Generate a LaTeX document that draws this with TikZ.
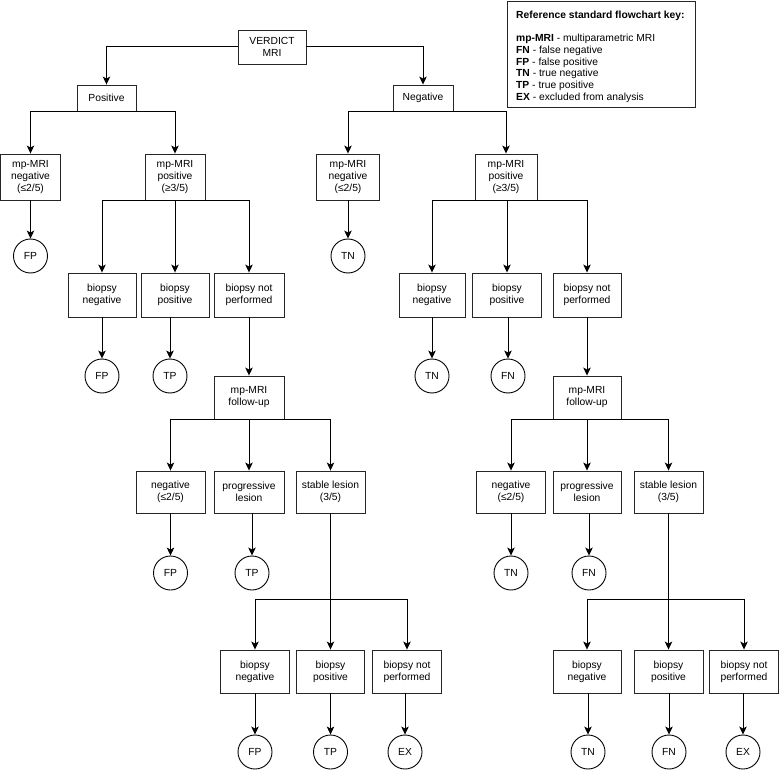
\documentclass[tikz,border=0pt]{standalone}
\usepackage{fontspec}
\setmainfont{Liberation Sans}
\usetikzlibrary{arrows.meta}
\newcommand\mybx[5]{\node[box,minimum width=#4pt,minimum height=#5pt] (#1) at (#2) {#3};}
\newcommand\myres[3]{\node[res] (#1) at (#2) {#3};}
\begin{document}
\begin{tikzpicture}[x=1pt,y=-1pt,
 box/.style={draw=black!85, line width=0.9pt, align=center, inner sep=0pt, font=\fontsize{10.3}{12}\selectfont},
 res/.style={circle, draw=black, line width=0.9pt, minimum size=34pt, inner sep=0pt, font=\fontsize{10.3}{12}\selectfont},
 arr/.style={line width=1pt, -{Stealth[length=8pt,width=7.5pt,inset=2pt]}},
 thinarr/.style={arr, line width=0.7pt}]
\useasboundingbox (0,0) rectangle (779,770);
% level 0/1
\mybx{verdict}{272,47}{VERDICT\\MRI}{68}{34}
\mybx{pos}{106.5,98}{Positive}{59}{26}
\mybx{neg}{423,98}{Negative}{60}{26}
% level 2
\mybx{mpnegL}{30.5,177}{mp-MRI\\negative\\(≤2/5)}{60}{46}
\mybx{mpposL}{175,177}{mp-MRI\\positive\\(≥3/5)}{60}{46}
\mybx{mpnegR}{348,177}{mp-MRI\\negative\\(≤2/5)}{63}{46}
\mybx{mpposR}{506,177}{mp-MRI\\positive\\(≥3/5)}{62}{46}
\myres{fp1}{30.5,256}{FP}
\myres{tn1}{348,256}{TN}
% biopsy row
\mybx{bnegL}{102,295}{biopsy\\negative}{68}{44}
\mybx{bposL}{175,295}{biopsy\\positive}{68}{44}
\mybx{bnpL}{249,295}{biopsy not\\performed}{70}{44}
\mybx{bnegR}{432,295}{biopsy\\negative}{66}{44}
\mybx{bposR}{507,295}{biopsy\\positive}{69}{44}
\mybx{bnpR}{587,295}{biopsy not\\performed}{68}{44}
\myres{fp2}{102,376}{FP}
\myres{tp2}{170,376}{TP}
\myres{tn2}{432,376}{TN}
\myres{fn2}{508,376}{FN}
% follow-up
\mybx{fuL}{249,397.5}{mp-MRI\\follow-up}{70}{43}
\mybx{fuR}{587,397.5}{mp-MRI\\follow-up}{68}{43}
% row 3
\mybx{negL3}{170.5,492}{negative\\(≤2/5)}{69}{42}
\mybx{progL3}{249,492}{progressive\\lesion}{70}{42}
\mybx{stabL3}{330.5,492}{stable lesion\\(3/5)}{69}{42}
\mybx{negR3}{511,492}{negative\\(≤2/5)}{69}{42}
\mybx{progR3}{587,492}{progressive\\lesion}{68}{42}
\mybx{stabR3}{668.5,492}{stable lesion\\(3/5)}{69}{42}
\myres{fp3}{170.5,573}{FP}
\myres{tp3}{252,573}{TP}
\myres{tn3}{511,573}{TN}
\myres{fn3}{589,573}{FN}
% row 4
\coordinate (jL) at (330.5,599);
\coordinate (jR) at (668.5,599);
\mybx{bnegL4}{255,671.5}{biopsy\\negative}{69}{43}
\mybx{bposL4}{330.5,671.5}{biopsy\\positive}{68}{43}
\mybx{bnpL4}{407,671.5}{biopsy not\\performed}{69}{43}
\mybx{bnegR4}{587,671.5}{biopsy\\negative}{68}{43}
\mybx{bposR4}{668.5,671.5}{biopsy\\positive}{69}{43}
\mybx{bnpR4}{744,671.5}{biopsy not\\performed}{69}{43}
\myres{fp4}{255,752}{FP}
\myres{tp4}{330.5,752}{TP}
\myres{ex4}{405,752}{EX}
\myres{tn4}{588,752}{TN}
\myres{fn4}{669,752}{FN}
\myres{ex5}{743,752}{EX}
% key
\node[draw=black!85, line width=0.9pt, minimum width=188pt, minimum height=106pt, inner sep=0pt] (key) at (601,54) {};
\node[anchor=north west, align=left, inner sep=0pt, font=\fontsize{10.3}{11.7}\selectfont] (keytext) at (516,10.5)
 {\textbf{Reference standard flowchart key:}\\[12pt]
  \textbf{mp-MRI} - multiparametric MRI\\
  \textbf{FN} - false negative\\
  \textbf{FP} - false positive\\
  \textbf{TN} - true negative\\
  \textbf{TP} - true positive\\
  \textbf{EX} - excluded from analysis};
% connectors
\draw[arr] (verdict.west) -| (pos.north);
\draw[arr] (verdict.east) -| (neg.north);
\draw[arr] (pos.south) -| (mpnegL.north);
\draw[arr] (pos.south) -| (mpposL.north);
\draw[arr] (neg.south) -| (mpnegR.north);
\draw[arr] (neg.south) -| (mpposR.north);
\draw[arr] (mpnegL.south) -- (fp1.north);
\draw[arr] (mpnegR.south) -- (tn1.north);
\draw[arr] (mpposL.south) -| (bnegL.north);
\draw[arr] (mpposL.south) -- (bposL.north);
\draw[arr] (mpposL.south) -| (bnpL.north);
\draw[arr] (mpposR.south) -| (bnegR.north);
\draw[arr] (mpposR.south) -| (bposR.north);
\draw[arr] (mpposR.south) -| (bnpR.north);
\draw[arr] (bnegL.south) -- (fp2.north);
\draw[thinarr] (tp2 |- bposL.south) -- (tp2.north);
\draw[arr] (bnpL.south) -- (fuL.north);
\draw[arr] (bnegR.south) -- (tn2.north);
\draw[thinarr] (fn2 |- bposR.south) -- (fn2.north);
\draw[arr] (bnpR.south) -- (fuR.north);
\draw[arr] (fuL.south) -| (negL3.north);
\draw[arr] (fuL.south) -- (progL3.north);
\draw[arr] (fuL.south) -| (stabL3.north);
\draw[arr] (fuR.south) -| (negR3.north);
\draw[arr] (fuR.south) -- (progR3.north);
\draw[arr] (fuR.south) -| (stabR3.north);
\draw[thinarr] (negL3.south) -- (fp3.north);
\draw[arr] (tp3 |- progL3.south) -- (tp3.north);
\draw[arr] (negR3.south) -- (tn3.north);
\draw[arr] (fn3 |- progR3.south) -- (fn3.north);
\draw[arr] (stabL3.south) -- (bposL4.north);
\draw[arr] (jL) -| (bnegL4.north);
\draw[arr] (jL) -| (bnpL4.north);
\draw[arr] (stabR3.south) -- (bposR4.north);
\draw[thinarr] (jR) -| (bnegR4.north);
\draw[arr] (jR) -| (bnpR4.north);
\draw[arr] (bnegL4.south) -- (fp4.north);
\draw[thinarr] (bposL4.south) -- (tp4.north);
\draw[arr] (ex4 |- bnpL4.south) -- (ex4.north);
\draw[arr] (tn4 |- bnegR4.south) -- (tn4.north);
\draw[arr] (fn4 |- bposR4.south) -- (fn4.north);
\draw[arr] (ex5 |- bnpR4.south) -- (ex5.north);
\end{tikzpicture}
\end{document}
